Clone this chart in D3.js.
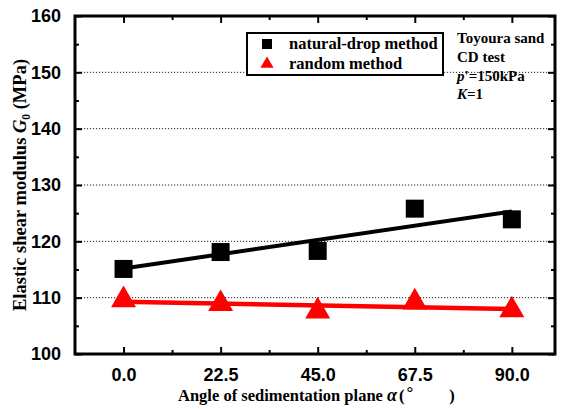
<!DOCTYPE html>
<html>
<head>
<meta charset="utf-8">
<script src="https://cdn.jsdelivr.net/npm/d3@7"></script>
<style>
  html, body { margin: 0; padding: 0; background: #fff; }
  svg { display: block; font-family: "Liberation Serif", "Times New Roman", serif; font-weight: bold; }
</style>
</head>
<body>
<svg id="chart" width="564" height="409"></svg>
<script>
// Angle of the sedimentation plane (degrees)
const angles = [0, 22.5, 45, 67.5, 90];
// Elastic shear modulus G0 (MPa) for each specimen preparation method
const naturalDrop = [115.1, 118.1, 118.3, 125.8, 123.9];
const randomMethod = [109.6, 108.9, 107.6, 109.2, 107.8];
// Axis ticks
const xTicks = [0, 22.5, 45, 67.5, 90];
const xMinorTicks = [11.25, 33.75, 56.25, 78.75];
const yTicks = [100, 110, 120, 130, 140, 150, 160];
const yMinorTicks = [105, 115, 125, 135, 145, 155];
const gridValues = [110, 120, 130, 140, 150];

const svg = d3.select("#chart");
const plotLeft = 75, plotRight = 555, plotTop = 16, plotBottom = 354;

const x = d3.scaleLinear().domain([-11.25, 100]).range([plotLeft, plotRight]);
const y = d3.scaleLinear().domain([100, 160]).range([plotBottom, plotTop]);

// dotted horizontal grid
svg.append("g").selectAll("line").data(gridValues).join("line")
  .attr("x1", plotLeft).attr("x2", plotRight)
  .attr("y1", d => y(d)).attr("y2", d => y(d))
  .attr("stroke", "#222").attr("stroke-width", 1)
  .attr("stroke-dasharray", "1.2,1.8");

// least-squares fit for a series
function fit(xs, ys) {
  const mx = d3.mean(xs), my = d3.mean(ys);
  let num = 0, den = 0;
  xs.forEach((v, i) => { num += (v - mx) * (ys[i] - my); den += (v - mx) * (v - mx); });
  const b = num / den, a = my - b * mx;
  return v => a + b * v;
}
const ext = d3.extent(angles);
const line = d3.line().x(d => x(d[0])).y(d => y(d[1]));

const fitN = fit(angles, naturalDrop);
const fitR = fit(angles, randomMethod);
svg.append("path").datum(ext.map(v => [v, fitN(v)]))
  .attr("d", line).attr("fill", "none").attr("stroke", "#000").attr("stroke-width", 4);
svg.append("path").datum(ext.map(v => [v, fitR(v)]))
  .attr("d", line).attr("fill", "none").attr("stroke", "#f00").attr("stroke-width", 4.5);

// markers
const sq = d3.symbol().type(d3.symbolSquare).size(18 * 18);
const tri = d3.symbol().type(d3.symbolTriangle).size(270);
svg.append("g").selectAll("path").data(angles).join("path")
  .attr("d", sq)
  .attr("transform", (d, i) => `translate(${x(d)},${y(naturalDrop[i])})`)
  .attr("fill", "#000");
svg.append("g").selectAll("path").data(angles).join("path")
  .attr("d", tri)
  .attr("transform", (d, i) => `translate(${x(d)},${y(randomMethod[i])})`)
  .attr("fill", "#f00");

// frame axes with inward ticks
function styleAxis(g) {
  g.select(".domain").remove();
  g.selectAll(".tick line").attr("stroke", "#000").attr("stroke-width", 2);
}
const bottomAxis = d3.axisBottom(x).tickValues(xTicks).tickSize(-7).tickPadding(14)
  .tickFormat(d3.format(".1f"));
const gB = svg.append("g").attr("transform", `translate(0,${plotBottom})`).call(bottomAxis).call(styleAxis);
gB.selectAll("text").attr("font-size", 18).attr("font-family", null).attr("fill", "#000");
svg.append("g").attr("transform", `translate(0,${plotBottom})`)
  .call(d3.axisBottom(x).tickValues(xMinorTicks).tickSize(-4).tickFormat("")).call(styleAxis);
svg.append("g").attr("transform", `translate(0,${plotTop})`)
  .call(d3.axisTop(x).tickValues(xTicks).tickSize(-7).tickFormat("")).call(styleAxis);
svg.append("g").attr("transform", `translate(0,${plotTop})`)
  .call(d3.axisTop(x).tickValues(xMinorTicks).tickSize(-4).tickFormat("")).call(styleAxis);

const gL = svg.append("g").attr("transform", `translate(${plotLeft},0)`)
  .call(d3.axisLeft(y).tickValues(yTicks).tickSize(-7).tickPadding(14).tickFormat(d3.format("d")))
  .call(styleAxis);
gL.selectAll("text").attr("font-size", 18).attr("font-family", null).attr("fill", "#000");
svg.append("g").attr("transform", `translate(${plotLeft},0)`)
  .call(d3.axisLeft(y).tickValues(yMinorTicks).tickSize(-4).tickFormat("")).call(styleAxis);
svg.append("g").attr("transform", `translate(${plotRight},0)`)
  .call(d3.axisRight(y).tickValues(yTicks).tickSize(-7).tickFormat("")).call(styleAxis);
svg.append("g").attr("transform", `translate(${plotRight},0)`)
  .call(d3.axisRight(y).tickValues(yMinorTicks).tickSize(-4).tickFormat("")).call(styleAxis);

// frame
svg.append("rect").attr("x", plotLeft).attr("y", plotTop)
  .attr("width", plotRight - plotLeft).attr("height", plotBottom - plotTop)
  .attr("fill", "none").attr("stroke", "#000").attr("stroke-width", 3);

// legend
const lg = svg.append("g");
lg.append("rect").attr("x", 247).attr("y", 33).attr("width", 196).attr("height", 42)
  .attr("fill", "#fff").attr("stroke", "#000").attr("stroke-width", 2);
lg.append("path").attr("d", d3.symbol().type(d3.symbolSquare).size(100))
  .attr("transform", "translate(267,44)").attr("fill", "#000");
lg.append("path").attr("d", d3.symbol().type(d3.symbolTriangle).size(75))
  .attr("transform", "translate(267,64)").attr("fill", "#f00");
lg.append("text").attr("x", 289).attr("y", 49).attr("font-size", 16.5).text("natural-drop method");
lg.append("text").attr("x", 289).attr("y", 69).attr("font-size", 16.5).text("random method");

// test conditions
const note = svg.append("g").attr("font-size", 15);
note.append("text").attr("x", 457).attr("y", 42.5).text("Toyoura sand");
note.append("text").attr("x", 457).attr("y", 61.5).text("CD test");
const t3 = note.append("text").attr("x", 457).attr("y", 80.5);
t3.append("tspan").attr("font-style", "italic").text("p");
t3.append("tspan").text("'=150kPa");
const t4 = note.append("text").attr("x", 457).attr("y", 99);
t4.append("tspan").attr("font-style", "italic").text("K");
t4.append("tspan").text("=1");

// axis titles
const xt = svg.append("text").attr("x", 178).attr("y", 401).attr("font-size", 16.5);
xt.append("tspan").text("Angle of sedimentation plane ");
xt.append("tspan").attr("font-style", "italic").attr("font-size", 18).text("α");
xt.append("tspan").attr("dx", 2).text("(");
xt.append("tspan").attr("dx", 2).attr("dy", -3).attr("font-size", 17).text("°");
xt.append("tspan").attr("dy", 3).attr("dx", 36).text(")");

const yt = svg.append("text").attr("transform", "translate(26,185) rotate(-90)")
  .attr("text-anchor", "middle").attr("font-size", 18.5);
yt.append("tspan").text("Elastic shear modulus ");
yt.append("tspan").attr("font-style", "italic").text("G");
yt.append("tspan").attr("font-size", 11.5).attr("dy", 4).text("0");
yt.append("tspan").attr("dy", -4).text(" (MPa)");
</script>
</body>
</html>
